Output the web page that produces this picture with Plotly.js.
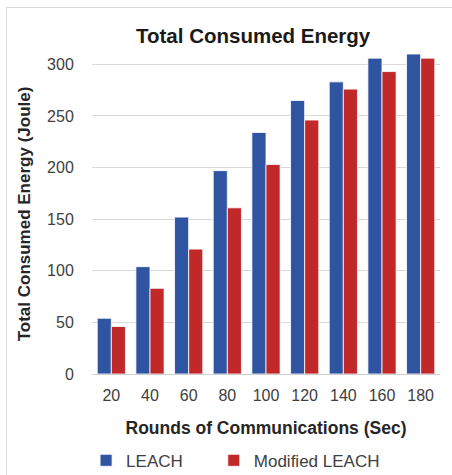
<!DOCTYPE html>
<html><head><meta charset="utf-8">
<script src="https://cdn.plot.ly/plotly-3.0.1.min.js"></script>
<style>
html,body{margin:0;padding:0;background:#fff;overflow:hidden;}
#frame{position:absolute;left:6px;top:7px;width:470px;height:490px;border:1px solid #d9d9d9;box-sizing:border-box;}
#chart{position:absolute;left:0;top:0;width:452px;height:475px;}
</style></head>
<body>
<div id="frame"></div>
<div id="chart"></div>
<script>
const categories = ['20','40','60','80','100','120','140','160','180'];
const leach = [54, 104, 152, 197, 234, 265, 283, 306, 310];
const modifiedLeach = [46, 83, 121, 161, 203, 246, 276, 293, 306];
const seriesNames = ['LEACH', 'Modified LEACH'];
const yTicks = [0, 50, 100, 150, 200, 250, 300];

const traces = [
  {type:'bar', name:seriesNames[0], x:categories, y:leach, legend:'legend',
   marker:{color:'#2f55a2', line:{color:'#ffffff', width:0.8}}},
  {type:'bar', name:seriesNames[1], x:categories, y:modifiedLeach, legend:'legend2',
   marker:{color:'#c0282a', line:{color:'#ffffff', width:0.8}}}
];

const legendCommon = {orientation:'h', yref:'container', y:0.03, yanchor:'middle', xanchor:'left',
  font:{size:17, color:'#404040'}, itemwidth:30, bgcolor:'rgba(0,0,0,0)'};

const layout = {
  width:452, height:475,
  paper_bgcolor:'rgba(0,0,0,0)', plot_bgcolor:'rgba(0,0,0,0)',
  margin:{l:92, r:12, t:54, b:101},
  font:{family:'Liberation Sans, Arial, sans-serif', color:'#404040'},
  title:{text:'<b>Total Consumed Energy</b>', x:0.56, xanchor:'center', y:0.925, yanchor:'middle',
         font:{size:20.5, color:'#1a1a1a'}},
  barmode:'group', bargap:0.27, bargroupgap:0.0,
  xaxis:{type:'category', tickfont:{size:16, color:'#404040'},
         ticks:'outside', ticklen:7, tickcolor:'rgba(0,0,0,0)',
         showline:false, showgrid:false,
         title:{text:'<b>Rounds of Communications (Sec)</b>', font:{size:17.5, color:'#262626'}, standoff:18}},
  yaxis:{range:[0,310], tickvals:yTicks, tickfont:{size:16, color:'#404040'},
         ticks:'outside', ticklen:14, tickcolor:'rgba(0,0,0,0)',
         showgrid:true, gridcolor:'#d9d9d9', gridwidth:1,
         zeroline:true, zerolinecolor:'#d0d0d0', zerolinewidth:1, showline:false,
         title:{text:'<b>Total Consumed Energy (Joule)</b>', font:{size:17, color:'#262626'}, standoff:12}},
  showlegend:true,
  legend:Object.assign({}, legendCommon, {x:-0.017}),
  legend2:Object.assign({}, legendCommon, {x:0.35})
};

Plotly.newPlot('chart', traces, layout, {displayModeBar:false, staticPlot:true});
</script>
</body></html>
